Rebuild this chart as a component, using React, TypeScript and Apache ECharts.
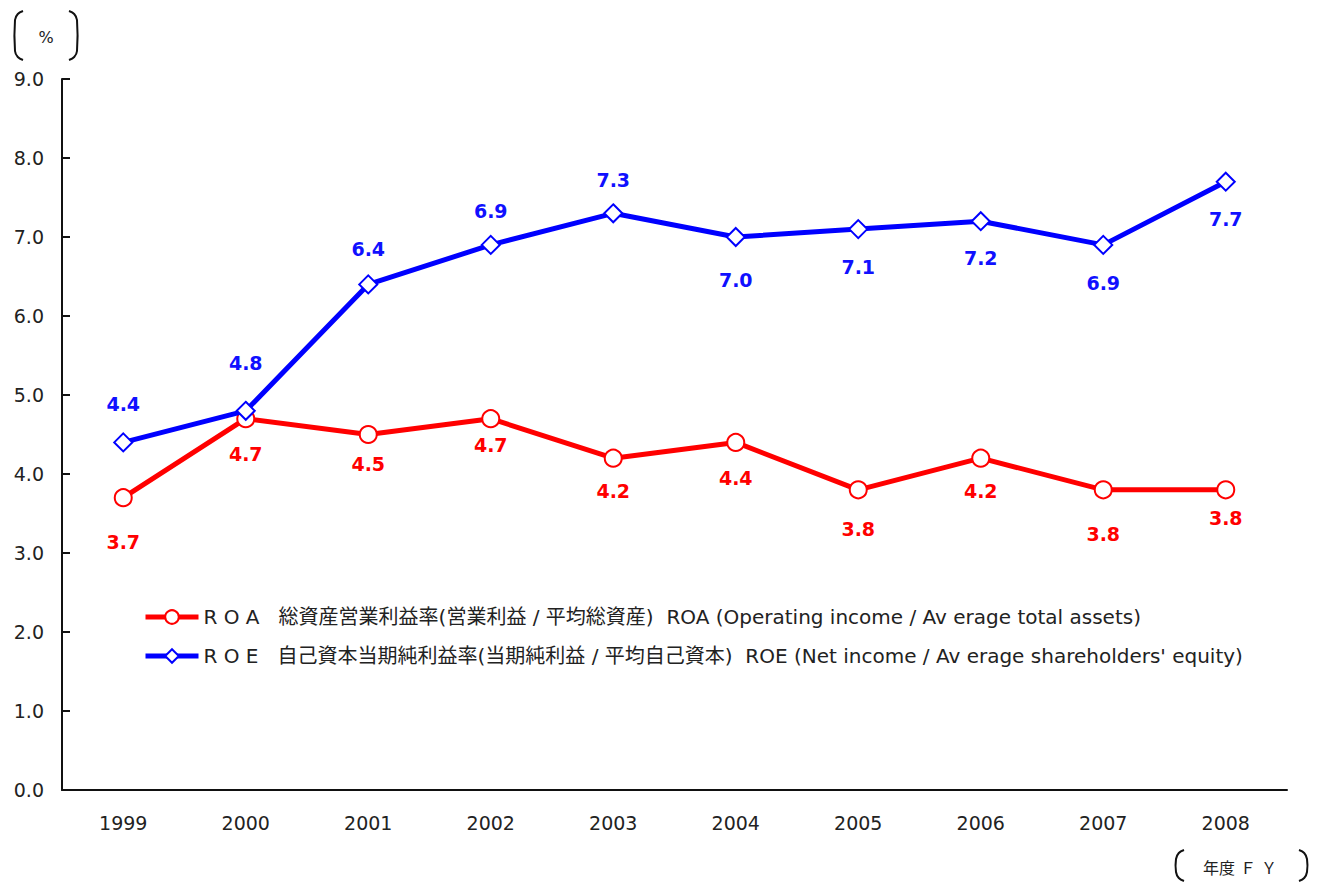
import React, { useEffect, useRef } from "react";
import * as echarts from "echarts";

const years = ["1999", "2000", "2001", "2002", "2003", "2004", "2005", "2006", "2007", "2008"];
const roa = [3.7, 4.7, 4.5, 4.7, 4.2, 4.4, 3.8, 4.2, 3.8, 3.8];
const roe = [4.4, 4.8, 6.4, 6.9, 7.3, 7.0, 7.1, 7.2, 6.9, 7.7];
const roaLabelOffset = [44, 35, 29, 26, 33, 36, 39, 33, 44, 28];
const roeLabelOffset = [-38, -48, -35, -34, -33, 43, 38, 37, 38, 37];
const roaName = "R O A   総資産営業利益率(営業利益 / 平均総資産)  ROA (Operating income / Av erage total assets)";
const roeName = "R O E   自己資本当期純利益率(当期純利益 / 平均自己資本)  ROE (Net income / Av erage shareholders' equity)";

const FONT = "'DejaVu Sans', 'Noto Sans CJK JP', sans-serif";

function bracket(x: number, y1: number, y2: number, dir: number) {
  const w = 8 * dir;
  return {
    type: "polyline",
    shape: {
      points: [
        [x + w, y1],
        [x + w * 0.35, y1 + 3],
        [x, y1 + 9],
        [x, y2 - 9],
        [x + w * 0.35, y2 - 3],
        [x + w, y2],
      ],
      smooth: 0.4,
    },
    style: { stroke: "#111", lineWidth: 2, fill: "none" },
  };
}

export default function App() {
  const ref = useRef<HTMLDivElement>(null);
  useEffect(() => {
    const chart = echarts.init(ref.current!, undefined, { renderer: "svg" });
    const labelStyle = (color: string) => ({
      fontFamily: FONT,
      fontWeight: "bold" as const,
      fontSize: 19,
      color,
    });
    chart.setOption({
      animation: false,
      backgroundColor: "#fff",
      grid: { left: 62, right: 32, top: 79, bottom: 92, containLabel: false },
      legend: {
        orient: "vertical",
        left: 138,
        top: 602,
        itemWidth: 53,
        itemHeight: 17,
        itemGap: 19,
        lineStyle: { width: 5 },
        textStyle: { fontFamily: FONT, fontSize: 20, color: "#222" },
        data: [roaName, roeName],
      },
      xAxis: {
        type: "category",
        data: years,
        boundaryGap: true,
        axisLine: { lineStyle: { color: "#111", width: 2 } },
        axisTick: { inside: true, length: 8, lineStyle: { color: "#111", width: 2 } },
        axisLabel: { fontFamily: FONT, fontSize: 19, color: "#222", margin: 23 },
      },
      yAxis: {
        type: "value",
        min: 0,
        max: 9,
        interval: 1,
        splitLine: { show: false },
        axisLine: { show: true, lineStyle: { color: "#111", width: 2 } },
        axisTick: { show: true, inside: true, length: 8, lineStyle: { color: "#111", width: 2 } },
        axisLabel: {
          fontFamily: FONT,
          fontSize: 19,
          color: "#222",
          margin: 18,
          formatter: (v: number) => v.toFixed(1),
        },
      },
      series: [
        {
          name: roaName,
          type: "line",
          data: roa.map((v, i) => ({
            value: v,
            label: { show: true, position: "inside", offset: [0, roaLabelOffset[i]], ...labelStyle("#ff0000"), formatter: v.toFixed(1) },
          })),
          symbol: "circle",
          symbolSize: 17,
          lineStyle: { color: "#ff0000", width: 5 },
          itemStyle: { color: "#fff", borderColor: "#ff0000", borderWidth: 2 },
          z: 2,
        },
        {
          name: roeName,
          type: "line",
          data: roe.map((v, i) => ({
            value: v,
            label: { show: true, position: "inside", offset: [0, roeLabelOffset[i]], ...labelStyle("#1010ff"), formatter: v.toFixed(1) },
          })),
          symbol: "diamond",
          symbolSize: 18,
          lineStyle: { color: "#0000ff", width: 5 },
          itemStyle: { color: "#fff", borderColor: "#0000ff", borderWidth: 2 },
          z: 3,
        },
      ],
      graphic: [
        bracket(15, 11, 60, 1),
        bracket(77, 11, 60, -1),
        {
          type: "text",
          x: 46,
          y: 37,
          style: { text: "%", fontFamily: FONT, fontSize: 16, fill: "#222", align: "center", verticalAlign: "middle" },
        },
        bracket(1176, 850, 881, 1),
        bracket(1307, 850, 881, -1),
        {
          type: "text",
          x: 1240,
          y: 868,
          style: { text: "年度 Ｆ Ｙ", fontFamily: FONT, fontSize: 16, fill: "#222", align: "center", verticalAlign: "middle" },
        },
      ],
    });
    return () => chart.dispose();
  }, []);
  return <div ref={ref} style={{ width: 1319, height: 882, position: "absolute", left: 0, top: 0 }} />;
}
